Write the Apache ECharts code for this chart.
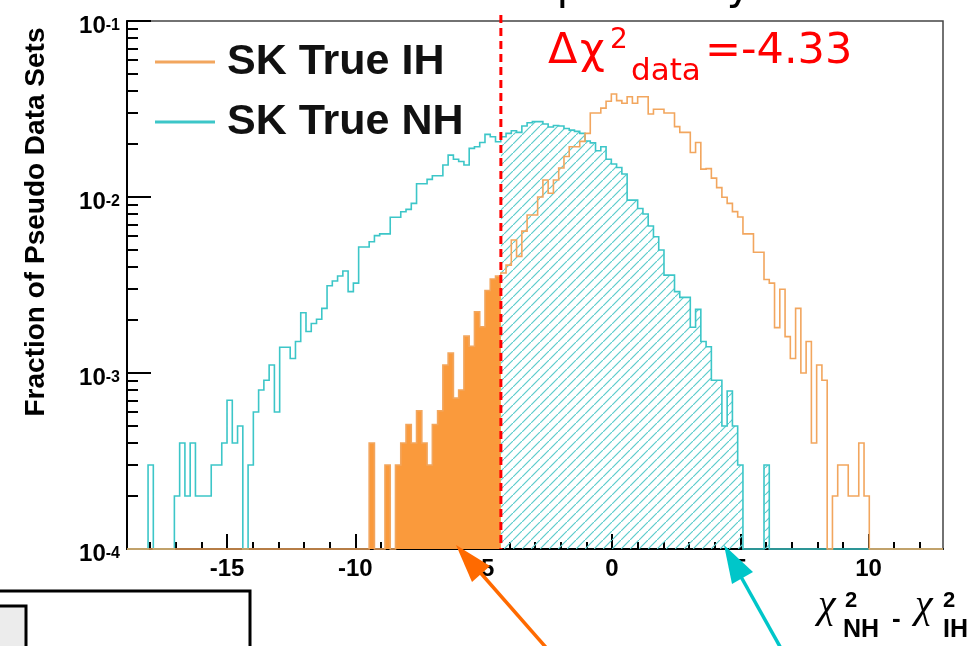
<!DOCTYPE html>
<html><head><meta charset="utf-8">
<script src="https://cdn.jsdelivr.net/npm/echarts@6/dist/echarts.min.js"></script>
<style>html,body{margin:0;padding:0;background:#fff;}#c{width:973px;height:646px;}</style>
</head><body><div id="c"></div>
<script>
// ---- data ----
const binLow = -18.9, binHigh = 12.9, nBins = 155;
const dataDelta = -4.33;
const seriesNames = ['SK True IH', 'SK True NH'];
const nhValues = [
0,0,0,0,3.0e-4,0,0,0,0,2.0e-4,
4.0e-4,2.0e-4,4.0e-4,2.0e-4,2.0e-4,2.0e-4,3.0e-4,3.0e-4,4.0e-4,7.0e-4,
4.0e-4,5.0e-4,0,3.0e-4,6.0e-4,8.0e-4,9.1e-4,1.11e-3,6.0e-4,1.40e-3,
1.40e-3,1.21e-3,1.51e-3,2.2e-3,1.72e-3,1.91e-3,2.02e-3,2.33e-3,3.13e-3,3.33e-3,
3.56e-3,3.8e-3,2.9e-3,3.24e-3,5.2e-3,5.2e-3,5.57e-3,6.03e-3,6.17e-3,6.17e-3,
7.67e-3,7.67e-3,8.25e-3,8.5e-3,9.2e-3,1.19e-2,1.19e-2,1.26e-2,1.32e-2,1.32e-2,
1.52e-2,1.73e-2,1.64e-2,1.59e-2,1.52e-2,1.89e-2,1.93e-2,2.04e-2,2.27e-2,2.2e-2,
2.06e-2,2.2e-2,2.3e-2,2.38e-2,2.33e-2,2.53e-2,2.64e-2,2.68e-2,2.68e-2,2.6e-2,
2.5e-2,2.55e-2,2.53e-2,2.45e-2,2.4e-2,2.36e-2,2.3e-2,2.08e-2,2.03e-2,1.83e-2,
1.93e-2,1.64e-2,1.54e-2,1.47e-2,1.35e-2,9.6e-3,9.6e-3,8.6e-3,8.0e-3,6.84e-3,
5.95e-3,5.0e-3,3.6e-3,3.6e-3,2.9e-3,2.69e-3,2.69e-3,1.82e-3,2.3e-3,1.51e-3,
1.41e-3,9.1e-4,9.1e-4,5.0e-4,7.9e-4,5.0e-4,3.0e-4,0,0,0,
0,3.0e-4,0,0,0,0,0,0,0,0,
0,0,0,0,0,0,0,0,0,0,
0,0,0,0,0,0,0,0,0,0,
0,0,0,0,0
];
const ihValues = [
0,0,0,0,0,0,0,0,0,0,
0,0,0,0,0,0,0,0,0,0,
0,0,0,0,0,0,0,0,0,0,
0,0,0,0,0,0,0,0,0,0,
0,0,0,0,0,0,4.0e-4,0,0,3.0e-4,
0,3.0e-4,4.0e-4,5.1e-4,4.0e-4,6.1e-4,4.0e-4,3.0e-4,5.1e-4,6.1e-4,
1.11e-3,1.30e-3,7.2e-4,8.0e-4,1.62e-3,1.42e-3,2.23e-3,1.83e-3,2.94e-3,3.42e-3,
3.55e-3,3.7e-3,4.1e-3,5.7e-3,4.6e-3,6.4e-3,7.9e-3,7.9e-3,1.0e-2,1.25e-2,
1.05e-2,1.25e-2,1.46e-2,1.7e-2,1.93e-2,1.93e-2,2.07e-2,2.3e-2,3.0e-2,3.0e-2,
3.2e-2,3.5e-2,3.85e-2,3.53e-2,3.41e-2,3.71e-2,3.41e-2,3.71e-2,3.71e-2,2.96e-2,
3.15e-2,3.15e-2,3.0e-2,3.0e-2,2.51e-2,2.33e-2,2.33e-2,1.79e-2,2.04e-2,1.44e-2,
1.45e-2,1.28e-2,1.13e-2,9.96e-3,9.2e-3,8.26e-3,7.7e-3,6.17e-3,6.17e-3,4.85e-3,
4.85e-3,3.4e-3,3.24e-3,1.81e-3,2.99e-3,1.61e-3,1.21e-3,2.33e-3,1.0e-3,1.51e-3,
4.0e-4,1.11e-3,9.1e-4,0,2.0e-4,3.0e-4,3.0e-4,2.0e-4,2.0e-4,4.0e-4,
2.0e-4,0,0,0,0,0,0,0,0,0,
0,0,0,0,0
];
const xMajorTicks = [-15, -10, -5, 0, 5, 10];
const xMinorTicks = [-18,-17,-16,-14,-13,-12,-11,-9,-8,-7,-6,-4,-3,-2,-1,1,2,3,4,6,7,8,9,11,12];
const yMajorTicks = [1e-4, 1e-3, 1e-2, 1e-1];
const yMinorTicks = [2e-4,3e-4,4e-4,5e-4,6e-4,7e-4,8e-4,9e-4,2e-3,3e-3,4e-3,5e-3,6e-3,7e-3,8e-3,9e-3,2e-2,3e-2,4e-2,5e-2,6e-2,7e-2,8e-2,9e-2];
const yRange = [1e-4, 1e-1];

// ---- styles / layout ----
const IH_LINE = '#f2a65e', IH_FILL = '#fa9a3c', NH_LINE = '#3cc6c8';
const FONT = 'Liberation Sans';
const GRID = { left: 127, right: 30, top: 21, bottom: 97 };
const GRID_W = 973 - GRID.left - GRID.right, GRID_H = 646 - GRID.top - GRID.bottom;

function edge(k) { return binLow + k * (binHigh - binLow) / nBins; }

function hatch() {
  const c = document.createElement('canvas');
  c.width = 9; c.height = 9;
  const g = c.getContext('2d');
  g.strokeStyle = '#5ccccc'; g.lineWidth = 1.2;
  g.beginPath(); g.moveTo(-1, 10); g.lineTo(10, -1); g.stroke();
  g.beginPath(); g.moveTo(-2, 1); g.lineTo(1, -2); g.stroke();
  g.beginPath(); g.moveTo(8, 11); g.lineTo(11, 8); g.stroke();
  return c;
}
const hatchImg = hatch();

function outlineRender(values, color) {
  return function (params, api) {
    const pts = [api.coord([edge(0), yRange[0]])];
    for (let k = 0; k < values.length; k++) {
      const v = Math.max(values[k], yRange[0]);
      pts.push(api.coord([edge(k), v]));
      pts.push(api.coord([edge(k + 1), v]));
    }
    pts.push(api.coord([edge(values.length), yRange[0]]));
    return { type: 'polyline', shape: { points: pts }, style: { stroke: color, lineWidth: 1.6, fill: null } };
  };
}
function fillRender(values, from, to, fill) {
  return function (params, api) {
    const pts = []; let last = from;
    for (let k = 0; k < values.length; k++) {
      let lo = edge(k), hi = edge(k + 1);
      if (hi <= from || lo >= to) continue;
      lo = Math.max(lo, from); hi = Math.min(hi, to);
      const v = Math.max(values[k], yRange[0]);
      if (!pts.length) pts.push(api.coord([lo, yRange[0]]));
      pts.push(api.coord([lo, v]), api.coord([hi, v]));
      last = hi;
    }
    pts.push(api.coord([last, yRange[0]]));
    return { type: 'polygon', shape: { points: pts }, style: { fill: fill, stroke: null } };
  };
}
function cutLineRender(params, api) {
  const top = api.coord([dataDelta, yRange[1]]);
  const bot = api.coord([dataDelta, yRange[0]]);
  return { type: 'line', shape: { x1: top[0], y1: top[1] - 6, x2: bot[0], y2: bot[1] },
    style: { stroke: '#ff0000', lineWidth: 3, lineDash: [8, 5] } };
}

const chart = echarts.init(document.getElementById('c'), null, { renderer: 'canvas' });

function sup(v) { return '{b|10}{s|' + Math.round(Math.log10(v)) + '}'; }

const baseGraphic = [
  { type: 'text', z: 50, style: { text: 'and SK data respectively', x: 752, y: -12, align: 'right', verticalAlign: 'middle',
    font: '43px "DejaVu Sans"', fill: '#000' } },
  { type: 'text', z: 50, x: 36, y: 222, rotation: Math.PI / 2,
    style: { text: 'Fraction of Pseudo Data Sets', align: 'center', verticalAlign: 'middle', font: 'bold 28px "Liberation Sans"', fill: '#000' } },
  { type: 'text', z: 50, style: { text: 'Δ', x: 548, y: 52, verticalAlign: 'middle', font: '43px "DejaVu Sans"', fill: '#ff0000' } },
  { type: 'text', z: 50, style: { text: 'χ', x: 580, y: 52, verticalAlign: 'middle', font: '43px "DejaVu Sans"', fill: '#ff0000' } },
  { type: 'text', z: 50, style: { text: '2', x: 610, y: 41, verticalAlign: 'middle', font: '28px "DejaVu Sans"', fill: '#ff0000' } },
  { type: 'text', z: 50, style: { text: 'data', x: 631, y: 72, verticalAlign: 'middle', font: '31px "DejaVu Sans"', fill: '#ff0000' } },
  { type: 'text', z: 50, style: { text: '=' + dataDelta.toFixed(2), x: 705, y: 52, verticalAlign: 'middle', font: '43px "DejaVu Sans"', fill: '#ff0000' } },
  { type: 'text', z: 50, style: { text: 'χ', x: 818, y: 606, verticalAlign: 'middle', font: 'italic 40px "Liberation Serif"', fill: '#000' } },
  { type: 'text', z: 50, style: { text: '2', x: 845, y: 601, verticalAlign: 'middle', font: 'bold 22px "Liberation Sans"', fill: '#000' } },
  { type: 'text', z: 50, style: { text: 'NH', x: 843, y: 630, verticalAlign: 'middle', font: 'bold 25px "Liberation Sans"', fill: '#000' } },
  { type: 'text', z: 50, style: { text: '-', x: 892, y: 620, verticalAlign: 'middle', font: 'bold 26px "Liberation Sans"', fill: '#000' } },
  { type: 'text', z: 50, style: { text: 'χ', x: 915, y: 606, verticalAlign: 'middle', font: 'italic 40px "Liberation Serif"', fill: '#000' } },
  { type: 'text', z: 50, style: { text: '2', x: 943, y: 601, verticalAlign: 'middle', font: 'bold 22px "Liberation Sans"', fill: '#000' } },
  { type: 'text', z: 50, style: { text: 'IH', x: 943, y: 630, verticalAlign: 'middle', font: 'bold 25px "Liberation Sans"', fill: '#000' } },
  { type: 'line', z: 60, shape: { x1: 550, y1: 652, x2: 478, y2: 570 }, style: { stroke: '#ff6a00', lineWidth: 3.5 } },
  { type: 'polygon', z: 60, shape: { points: [[456, 545], [490, 566], [472, 582]] }, style: { fill: '#ff6a00' } },
  { type: 'line', z: 60, shape: { x1: 783, y1: 652, x2: 740, y2: 575 }, style: { stroke: '#00c6c9', lineWidth: 3.5 } },
  { type: 'polygon', z: 60, shape: { points: [[724, 545], [753, 572], [732, 584]] }, style: { fill: '#00c6c9' } },
  { type: 'rect', z: 60, shape: { x: -5, y: 591, width: 255, height: 70 }, style: { fill: '#fff', stroke: '#000', lineWidth: 3 } },
  { type: 'rect', z: 61, shape: { x: -5, y: 606, width: 31, height: 60 }, style: { fill: '#ececec', stroke: '#000', lineWidth: 3 } }
];

const tickStyle = { color: '#000', width: 2 };
const option = {
  animation: false,
  backgroundColor: '#fff',
  grid: { left: GRID.left, right: GRID.right, top: GRID.top, bottom: GRID.bottom, show: true, borderColor: '#444', borderWidth: 1.5, backgroundColor: 'transparent' },
  legend: {
    data: seriesNames, orient: 'vertical', left: 150, top: 27, itemWidth: 60, itemHeight: 3, itemGap: 0,
    icon: 'rect', selectedMode: false,
    textStyle: { fontFamily: FONT, fontWeight: 'bold', fontSize: 43, color: '#111', lineHeight: 60, padding: [0, 0, 0, 7] }
  },
  xAxis: [
    { type: 'value', min: binLow, max: binHigh, position: 'bottom',
      axisLine: { show: true, onZero: false, lineStyle: { color: '#000', width: 2 } },
      axisTick: { show: true, inside: true, length: 15, customValues: xMajorTicks, lineStyle: tickStyle },
      axisLabel: { customValues: xMajorTicks, margin: 8, fontFamily: FONT, fontWeight: 'bold', fontSize: 24, color: '#000' },
      splitLine: { show: false } },
    // minor ticks: a top axis shifted down onto the bottom edge, ticks pointing up into the frame
    { type: 'value', min: binLow, max: binHigh, position: 'top', offset: -GRID_H,
      axisLine: { show: false, onZero: false },
      axisTick: { show: true, inside: false, length: 7, customValues: xMinorTicks, lineStyle: tickStyle },
      axisLabel: { show: false }, splitLine: { show: false } }
  ],
  yAxis: [
    { type: 'log', logBase: 10, min: yRange[0], max: yRange[1], position: 'left',
      axisLine: { show: true, onZero: false, lineStyle: { color: '#000', width: 2 } },
      axisTick: { show: true, inside: true, length: 24, customValues: yMajorTicks, lineStyle: tickStyle },
      axisLabel: { customValues: yMajorTicks, margin: 7, formatter: sup, padding: [10, 0, 0, 0],
        rich: { b: { fontFamily: FONT, fontWeight: 'bold', fontSize: 24, lineHeight: 24, verticalAlign: 'bottom', color: '#000' },
                s: { fontFamily: FONT, fontWeight: 'bold', fontSize: 16, lineHeight: 16, verticalAlign: 'top', padding: [4, 0, 14, 0], color: '#000' } } },
      splitLine: { show: false } },
    // minor ticks: a right axis shifted left onto the left edge, ticks pointing right into the frame
    { type: 'log', logBase: 10, min: yRange[0], max: yRange[1], position: 'right', offset: -GRID_W,
      axisLine: { show: false, onZero: false },
      axisTick: { show: true, inside: false, length: 11, customValues: yMinorTicks, lineStyle: tickStyle },
      axisLabel: { show: false }, splitLine: { show: false } }
  ],
  series: [
    { type: 'custom', name: 'IH fill', silent: true, clip: false, z: 2, data: [[binLow, yRange[0]]],
      renderItem: fillRender(ihValues, binLow, dataDelta, IH_FILL) },
    { type: 'custom', name: 'NH hatch', silent: true, clip: false, z: 2, data: [[binHigh, yRange[0]]],
      renderItem: fillRender(nhValues, dataDelta, binHigh, { image: hatchImg, repeat: 'repeat' }) },
    { type: 'custom', name: seriesNames[1], silent: true, clip: false, z: 3, itemStyle: { color: NH_LINE }, data: [[binLow, yRange[0]]],
      renderItem: outlineRender(nhValues, NH_LINE) },
    { type: 'custom', name: seriesNames[0], silent: true, clip: false, z: 4, itemStyle: { color: IH_LINE }, data: [[binLow, yRange[0]]],
      renderItem: outlineRender(ihValues, IH_LINE) },
    { type: 'custom', name: 'data', silent: true, clip: false, z: 5, data: [[dataDelta, yRange[0]]],
      renderItem: cutLineRender }
  ],
  graphic: baseGraphic
};
chart.setOption(option);
</script>
</body></html>
